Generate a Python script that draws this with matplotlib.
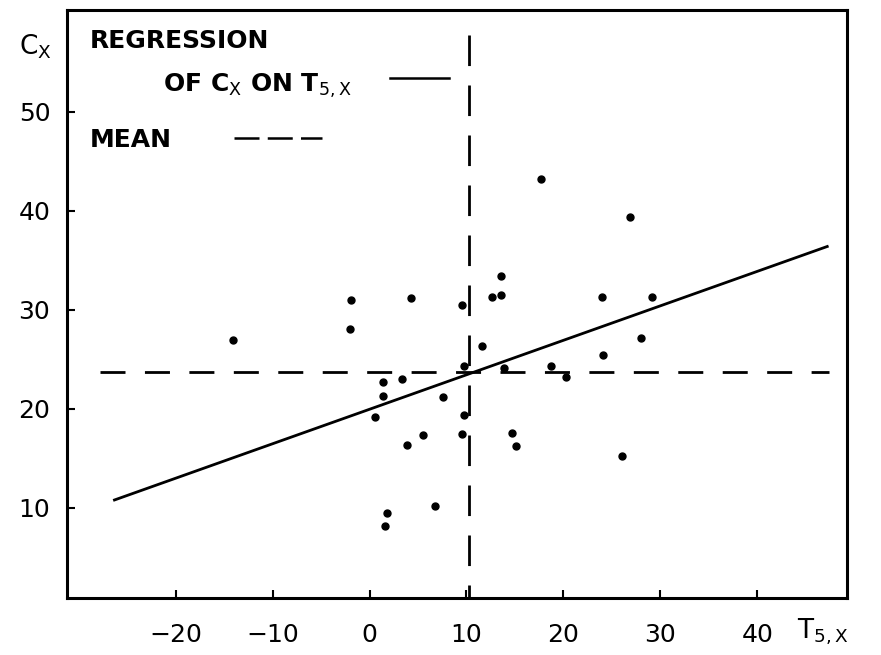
import numpy as np
import matplotlib.pyplot as plt

# scatter data: T5,x against Cx
t5x = [-14.1, -1.9, -2.0, 4.3, 9.5, 12.6, 13.6, 13.6, 11.6, 9.7, 1.4, 1.4,
       3.4, 0.6, 7.6, 5.5, 3.9, 9.7, 9.5, 14.7, 15.1, 6.8, 1.8, 1.6,
       13.9, 18.7, 20.3, 17.7, 26.9, 24.0, 29.1, 28.0, 24.1, 26.0]
cx = [27.0, 31.0, 28.1, 31.2, 30.5, 31.3, 31.5, 33.4, 26.3, 24.3, 22.7, 21.3,
      23.0, 19.2, 21.2, 17.4, 16.4, 19.4, 17.5, 17.6, 16.3, 10.2, 9.5, 8.2,
      24.1, 24.3, 23.2, 43.2, 39.4, 31.3, 31.3, 27.2, 25.4, 15.2]

# regression line end points and means
reg_x = [-26.3, 47.2]
reg_y = [10.8, 36.4]
mean_t = 10.3
mean_c = 23.7

xticks = [-20, -10, 0, 10, 20, 30, 40]
yticks = [10, 20, 30, 40, 50]

fig = plt.figure(figsize=(8.81, 6.55), dpi=100)
ax = fig.add_axes([0.076, 0.087, 0.885, 0.898])

ax.plot(t5x, cx, 'o', color='black', ms=5)
ax.plot(reg_x, reg_y, color='black', lw=2)
ax.plot([-27.8, 47.4], [mean_c, mean_c], color='black', lw=2, ls=(0, (9, 7)))
# drawn top-down so the pattern starts with a dash at the top
ax.plot([mean_t, mean_t], [57.8, 0.9], color='black', lw=2, ls=(0, (11, 7)))

ax.set_xlim(-31.2, 49.2)
ax.set_ylim(0.9, 60.3)
ax.set_xticks(xticks)
ax.set_yticks(yticks)
ax.set_xticklabels(['\u221220', '\u221210', '0', '10', '20', '30', '40'])
ax.tick_params(direction='in', length=6, width=1.5, labelsize=18, pad=10)
ax.tick_params(axis='y', pad=12)
ax.tick_params(axis='x', pad=18)
for s in ax.spines.values():
    s.set_linewidth(2.2)

# axis names
fig.text(0.022, 0.928, r'C$_\mathsf{X}$', fontsize=19, ha='left', va='center')
fig.text(0.905, 0.035, r'T$_{\mathsf{5,X}}$', fontsize=19, ha='left', va='center')

# key
ax.text(-28.8, 57.2, 'REGRESSION', fontsize=18, fontweight='bold', va='center')
ax.text(-21.3, 52.6, r'OF C$_\mathsf{X}$ ON T$_{\mathsf{5,X}}$', fontsize=18,
        fontweight='bold', va='center')
ax.plot([2.1, 8.2], [53.4, 53.4], color='black', lw=1.8)
ax.text(-28.8, 47.2, 'MEAN', fontsize=18, fontweight='bold', va='center')
ax.plot([-14.0, -4.9], [47.4, 47.4], color='black', lw=1.8, ls=(0, (10, 3.3)))

fig.savefig('out.png', dpi=100, facecolor='white')
